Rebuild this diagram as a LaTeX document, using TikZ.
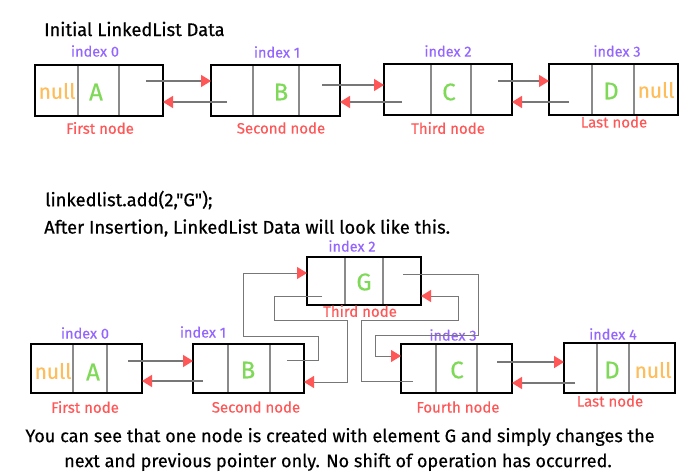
\documentclass[tikz,border=0pt]{standalone}
\usepackage{fontspec}
\setmainfont{Fira Sans}
\newfontfamily\medfont[FakeBold=0.6]{Fira Sans}
\newfontfamily\bodyfont[FakeBold=0.35]{Fira Sans}
\usetikzlibrary{arrows.meta}
\definecolor{cpurple}{HTML}{9466FF}
\definecolor{cred}{HTML}{FF5757}
\definecolor{cgreen}{HTML}{7ED957}
\definecolor{corange}{HTML}{FFBD59}
\definecolor{divgray}{HTML}{8A8A8A}
\definecolor{ptrgray}{HTML}{777777}
\begin{document}
\begin{tikzpicture}[x=1pt,y=-1pt,
  lbox/.style={draw=black, line width=2pt, inner sep=0pt, outer sep=0pt},
  div/.style={draw=divgray, line width=1.5pt},
  ptr/.style={draw=ptrgray, line width=1.6pt, -{Triangle[length=10pt,width=12pt,color=cred]}},
  route/.style={draw=ptrgray, line width=1pt, -{Triangle[length=10pt,width=12pt,color=cred]}},
  idx/.style={text=cpurple, font=\bodyfont\fontsize{14.5}{14.5}\selectfont, inner sep=0pt},
  lab/.style={text=cred, font=\bodyfont\fontsize{15}{15}\selectfont, inner sep=0pt},
  val/.style={text=cgreen, font=\bodyfont\fontsize{24}{24}\selectfont, inner sep=0pt},
  nul/.style={text=corange, font=\bodyfont\fontsize{21}{21}\selectfont, inner sep=0pt},
  head/.style={font=\medfont\fontsize{18.3}{18.3}\selectfont, inner sep=0pt, anchor=west},
  body/.style={font=\bodyfont\fontsize{18.1}{18.1}\selectfont, inner sep=0pt}
]
\useasboundingbox[fill=white] (0,0) rectangle (691,476);

% ---------- headings ----------
\node[head] (t1) at (44,29) {Initial LinkedList Data};
\node[head] (t2) at (45,200) {linkedlist.add(2,"G");};
\node[head] (t3) at (44,228) {After Insertion, LinkedList Data will look like this.};

% ---------- top row ----------
\foreach \x in {78,119,253,299} \draw[div] (\x,66) -- (\x,115);
\foreach \x in {431,471,592,634} \draw[div] (\x,65) -- (\x,114);
\node[lbox, minimum width=128pt, minimum height=51pt] (A) at (99,90.5) {};
\node[lbox, minimum width=129pt, minimum height=51pt] (B) at (275.5,90.5) {};
\node[lbox, minimum width=128pt, minimum height=51pt] (C) at (448,89.5) {};
\node[lbox, minimum width=129pt, minimum height=51pt] (D) at (613.5,89.5) {};

\node[nul] (An) at (57,91) {null};
\node[val] (Av) at (96,92) {A};
\node[val] (Bv) at (281,92) {B};
\node[val] (Cv) at (449,92) {C};
\node[val] (Dv) at (611,91) {D};
\node[nul] (Dn) at (656,90) {null};

\node[idx] (Ai) at (95,51) {index 0};
\node[idx] (Bi) at (277,52) {index 1};
\node[idx] (Ci) at (448,51) {index 2};
\node[idx] (Di) at (617,51) {index 3};
\node[lab] (Al) at (100,128) {First node};
\node[lab] (Bl) at (281,128) {Second node};
\node[lab] (Cl) at (448,128) {Third node};
\node[lab] (Dl) at (614,122) {Last node};

\coordinate (An1) at (146,81);
\coordinate (Bp1) at (227,102);
\coordinate (Bn1) at (322,85);
\coordinate (Cp1) at (402,102);
\coordinate (Cn1) at (498,81);
\coordinate (Dp1) at (569,102);
\draw[ptr] (An1) -- (An1 -| B.west);
\draw[ptr] (Bp1) -- (Bp1 -| A.east);
\draw[ptr] (Bn1) -- (Bn1 -| C.west);
\draw[ptr] (Cp1) -- (Cp1 -| B.east);
\draw[ptr] (Cn1) -- (Cn1 -| D.west);
\draw[ptr] (Dp1) -- (Dp1 -| C.east);

% ---------- bottom row ----------
\foreach \x in {73,107,228,270,436,477} \draw[div] (\x,345) -- (\x,392);
\foreach \x in {597,629} \draw[div] (\x,344) -- (\x,392);
\foreach \x in {345,383} \draw[div] (\x,258) -- (\x,304);
\node[lbox, minimum width=111pt, minimum height=49pt] (A2) at (86.5,368.5) {};
\node[lbox, minimum width=111pt, minimum height=49pt] (B2) at (248.5,368.5) {};
\node[lbox, minimum width=114pt, minimum height=48pt] (G2) at (364,281) {};
\node[lbox, minimum width=111pt, minimum height=49pt] (C2) at (456.5,368.5) {};
\node[lbox, minimum width=111pt, minimum height=50pt] (D2) at (619.5,368) {};

\node[nul] (A2n) at (53,371) {null};
\node[val] (A2v) at (93,372) {A};
\node[val] (B2v) at (248,370) {B};
\node[val] (G2v) at (364,282) {G};
\node[val] (C2v) at (457,370) {C};
\node[val] (D2v) at (612,370) {D};
\node[nul] (D2n) at (653,370) {null};

\node[idx] (A2i) at (85,333) {index 0};
\node[idx] (B2i) at (203,332) {index 1};
\node[idx] (G2i) at (352,246) {index 2};
\node[idx] (C2i) at (453,335) {index 3};
\node[idx] (D2i) at (613,334) {index 4};
\node[lab] (A2l) at (85,407) {First node};
\node[lab] (B2l) at (256,407) {Second node};
\node[lab] (G2l) at (360,311) {Third node};
\node[lab] (C2l) at (458,407) {Fourth node};
\node[lab] (D2l) at (610,401) {Last node};

\coordinate (An2) at (128,361);
\coordinate (Bp2) at (203,381);
\coordinate (Cn2) at (497,362);
\coordinate (Dp2) at (575,383);
\draw[ptr] (An2) -- (An2 -| B2.west);
\draw[ptr] (Bp2) -- (Bp2 -| A2.east);
\draw[ptr] (Cn2) -- (Cn2 -| D2.west);
\draw[ptr] (Dp2) -- (Dp2 -| C2.east);

% rerouted pointers around the inserted node
\coordinate (Bn2) at (287,360);
\coordinate (Gp2) at (322,296);
\coordinate (Gn2) at (403,274);
\coordinate (Cp2) at (413,381);
\draw[route] (Bn2) -- (318,360) -- (318,336) -- (243,336) -- (243,273) -- (G2.west |- 0,273);
\draw[route] (Gp2) -- (274,296) -- (274,320) -- (347,320) -- (347,382) -- (B2.east |- 0,382);
\draw[route] (Gn2) -- (478,274) -- (478,335) -- (375,335) -- (375,356) -- (C2.west |- 0,356);
\draw[route] (Cp2) -- (361,381) -- (361,320) -- (458,320) -- (458,296) -- (G2.east |- 0,296);

% ---------- closing text ----------
\node[body] (e1) at (340,437) {You can see that one node is created with element G and simply changes the};
\node[body] (e2) at (338,462) {next and previous pointer only. No shift of operation has occurred.};
\end{tikzpicture}
\end{document}
